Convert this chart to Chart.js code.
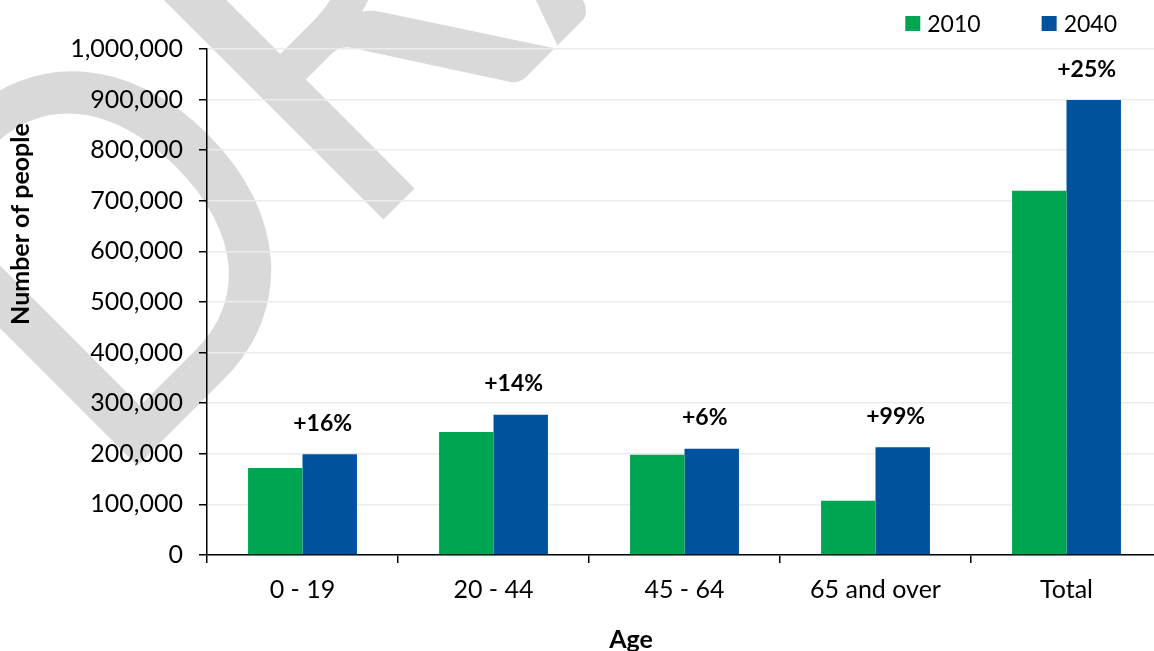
<!DOCTYPE html>
<html>
<head>
<meta charset="utf-8">
<script src="https://cdn.jsdelivr.net/npm/chart.js@4/dist/chart.umd.min.js"></script>
<style>
html,body{margin:0;padding:0;background:#fff;overflow:hidden;width:1154px;height:651px}
#wrap{position:relative;width:1170px;height:651px}
</style>
</head>
<body>
<div id="wrap"><canvas id="c"></canvas></div>
<script>
// ---- data ----
const categories = ['0 - 19', '20 - 44', '45 - 64', '65 and over', 'Total'];
const seriesNames = ['2010', '2040'];
const pop2010 = [172000, 243000, 198000, 107000, 720000];
const pop2040 = [199000, 277000, 210000, 213000, 899000];
const changeLabels = ['+16%', '+14%', '+6%', '+99%', '+25%'];
const yMin = 0, yMax = 1000000, yStep = 100000;
const xTitle = 'Age';
const yTitle = 'Number of people';
const watermarkText = 'DRAFT';

const FONT = 'Lato, "Open Sans", sans-serif';
const GREEN = '#00a551';
const BLUE = '#00529c';

const watermark = {
  id: 'watermark',
  beforeDraw(chart) {
    const ctx = chart.ctx;
    ctx.save();
    ctx.fillStyle = '#fff';
    ctx.fillRect(0, 0, chart.width, chart.height);
    ctx.font = '490px ' + FONT;
    const mD = ctx.measureText('D'), mR = ctx.measureText('R');
    const lsbD = -mD.actualBoundingBoxLeft, lsbR = -mR.actualBoundingBoxLeft;
    const dist = mD.width + lsbR - lsbD;
    const sx = 348 / dist;
    ctx.translate(133, 470);
    ctx.rotate(-Math.PI / 4);
    ctx.scale(sx, 1.05);
    ctx.fillStyle = '#d9d9d9';
    ctx.textBaseline = 'alphabetic';
    ctx.textAlign = 'left';
    ctx.fillText(watermarkText, -lsbD, 0);
    ctx.restore();
  }
};

const legendPlugin = {
  id: 'customLegend',
  afterDraw(chart) {
    const ctx = chart.ctx;
    ctx.save();
    ctx.font = '23px ' + FONT;
    ctx.textBaseline = 'middle';
    ctx.textAlign = 'left';
    const items = chart.data.datasets;
    const box = 15, gap = 7, itemGap = 61, cy = 23.5, rightEnd = 1117;
    const widths = items.map(d => ctx.measureText(d.label).width);
    const total = widths.reduce((a, w) => a + box + gap + w, 0) + itemGap * (items.length - 1);
    let cx = rightEnd - total;
    items.forEach((d, i) => {
      ctx.fillStyle = d.backgroundColor;
      ctx.fillRect(cx, cy - 7.5, box, box);
      cx += box + gap;
      ctx.fillStyle = '#000';
      ctx.fillText(d.label, cx, cy + 1);
      cx += widths[i] + itemGap;
    });
    ctx.restore();
  }
};

const titlesPlugin = {
  id: 'axisTitles',
  afterDraw(chart) {
    const ctx = chart.ctx;
    ctx.save();
    ctx.font = 'bold 25px ' + FONT;
    ctx.fillStyle = '#000';
    ctx.textAlign = 'center';
    ctx.textBaseline = 'middle';
    ctx.fillText(xTitle, 631, 640);
    ctx.translate(21, 224);
    ctx.rotate(-Math.PI / 2);
    ctx.fillText(yTitle, 0, 0);
    ctx.restore();
  }
};

const changeLabelPlugin = {
  id: 'changeLabels',
  afterDatasetsDraw(chart) {
    const ctx = chart.ctx;
    const meta = chart.getDatasetMeta(1);
    ctx.save();
    ctx.font = 'bold 23px ' + FONT;
    ctx.fillStyle = '#000';
    ctx.textAlign = 'center';
    ctx.textBaseline = 'middle';
    meta.data.forEach((bar, i) => {
      ctx.fillText(changeLabels[i], bar.x - 7, bar.y - 31);
    });
    ctx.restore();
  }
};

new Chart(document.getElementById('c'), {
  type: 'bar',
  data: {
    labels: categories,
    datasets: [
      { label: seriesNames[0], data: pop2010, backgroundColor: GREEN, borderWidth: 0,
        categoryPercentage: 0.57, barPercentage: 1.0 },
      { label: seriesNames[1], data: pop2040, backgroundColor: BLUE, borderWidth: 0,
        categoryPercentage: 0.57, barPercentage: 1.0 }
    ]
  },
  options: {
    responsive: true,
    maintainAspectRatio: false,
    devicePixelRatio: 1,
    animation: false,
    layout: { padding: { top: 49, right: 8, left: 0, bottom: 0 } },
    plugins: { legend: { display: false }, tooltip: { enabled: false } },
    scales: {
      x: {
        grid: { display: true, drawOnChartArea: false, drawTicks: true, tickLength: 8,
                color: '#000', lineWidth: 1.5, offset: true },
        border: { display: true, color: '#000', width: 1.5 },
        ticks: { color: '#000', font: { family: FONT, size: 25 }, padding: 12, maxRotation: 0 },
        title: { display: false },
        afterFit(s) { s.height = 96; }
      },
      y: {
        min: yMin, max: yMax,
        ticks: { stepSize: yStep, color: '#000', font: { family: FONT, size: 25 }, padding: 16,
                 callback: v => v.toLocaleString('en-US') },
        grid: { color: '#ececec', lineWidth: 1.5, tickColor: '#000', tickLength: 8, drawTicks: true },
        border: { display: true, color: '#000', width: 1.5 },
        title: { display: false },
        afterFit(s) { s.width = 207; }
      }
    }
  },
  plugins: [watermark, legendPlugin, titlesPlugin, changeLabelPlugin]
});
</script>
</body>
</html>
